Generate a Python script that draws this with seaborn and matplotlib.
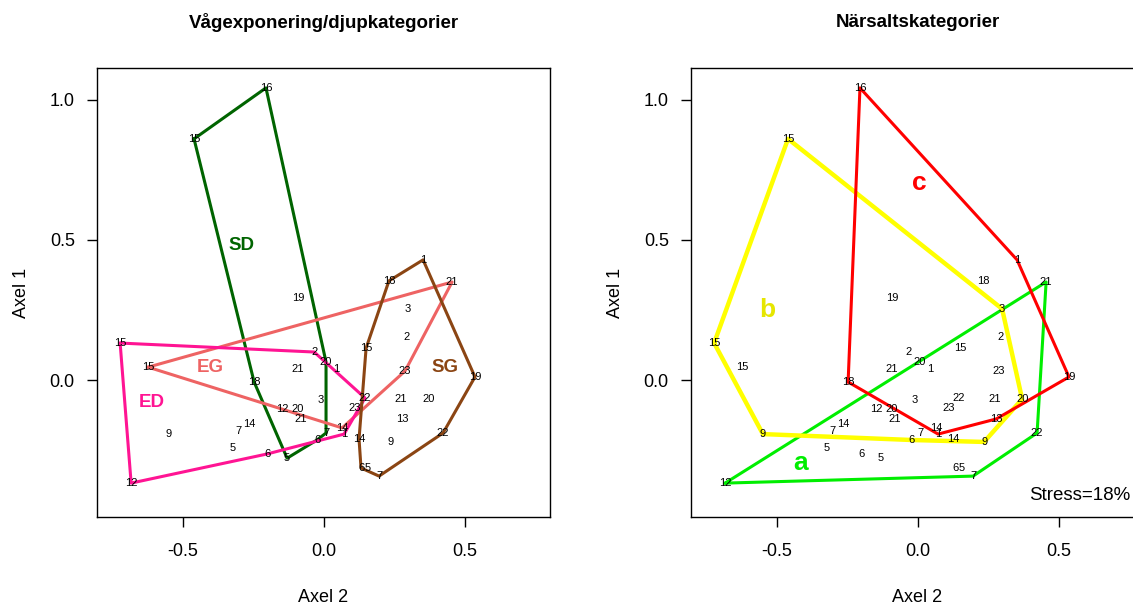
import numpy as np
import pandas as pd
import matplotlib
matplotlib.use("Agg")
import matplotlib.pyplot as plt
import seaborn as sns

# ----------------------------------------
# NMDS site scores (same ordination in both panels)
# ----------------------------------------
site = ["16", "15", "19", "18", "1", "21", "3", "2", "15", "23", "19",
        "21", "20", "13", "22", "9", "6", "5", "7", "14", "22", "23",
        "14", "1", "6", "7", "5", "6", "12", "20", "21", "3", "21",
        "2", "20", "1", "18", "15", "15", "9", "7", "14", "5", "12"]
axel2 = [-0.206, -0.461, -0.092, 0.230, 0.351, 0.454, 0.298, 0.294, 0.149, 0.287, 0.535,
         0.270, 0.369, 0.277, 0.422, 0.234, 0.131, 0.156, 0.195, 0.124, 0.145, 0.110,
         0.064, 0.071, -0.025, 0.007, -0.131, -0.202, -0.149, -0.092, -0.082, -0.011, -0.092,
         -0.035, 0.007, 0.043, -0.248, -0.624, -0.723, -0.550, -0.305, -0.266, -0.323, -0.684]
axel1 = [1.043, 0.861, 0.293, 0.354, 0.429, 0.350, 0.254, 0.154, 0.114, 0.032, 0.011,
         -0.068, -0.068, -0.139, -0.189, -0.221, -0.314, -0.314, -0.343, -0.211, -0.064, -0.100,
         -0.171, -0.193, -0.214, -0.189, -0.279, -0.264, -0.104, -0.104, -0.139, -0.071, 0.039,
         0.100, 0.064, 0.039, -0.007, 0.046, 0.132, -0.193, -0.182, -0.157, -0.243, -0.368]

# wave exposure / depth category of each sample
exposure = ["SD", "SD", "SD", "SG", "SG", "EG", "SG", "SG", "SG", "EG", "SG",
            "SG", "SG", "SG", "SG", "SG", "SG", "SG", "SG", "SG", "ED", "EG",
            "EG", "ED", "SD", "SD", "SD", "ED", "ED", "ED", "ED", "SD", "SD",
            "ED", "SD", "EG", "SD", "EG", "ED", "ED", "ED", "ED", "ED", "ED"]
# nutrient category of each sample
nutrient = ["c", "b", "c", "c", "c", "a", "b", "c", "c", "c", "c",
            "c", "b", "c", "a", "b", "a", "a", "a", "b", "c", "c",
            "c", "c", "b", "b", "a", "a", "a", "a", "a", "c", "c",
            "c", "c", "c", "c", "b", "b", "b", "b", "b", "a", "a"]

left_groups = ["SD", "EG", "ED", "SG"]
left_colors = {"SD": "#006400", "EG": "#EE6363", "ED": "#FF1493", "SG": "#8B4513"}
left_label_pos = {"SD": (-0.294, 0.482), "EG": (-0.404, 0.046),
                  "ED": (-0.610, -0.079), "SG": (0.429, 0.043)}

right_groups = ["a", "b", "c"]
right_colors = {"a": "#00EE00", "b": "#FFFF00", "c": "#FF0000"}
right_text_colors = {"a": "#00EE00", "b": "#E6E600", "c": "#FF0000"}
right_label_pos = {"a": (-0.418, -0.296), "b": (-0.535, 0.250), "c": (0.004, 0.704)}


def convex_hull(xs, ys):
    pts = sorted(set(zip(xs, ys)))

    def cross(o, a, b):
        return (a[0] - o[0]) * (b[1] - o[1]) - (a[1] - o[1]) * (b[0] - o[0])

    lower, upper = [], []
    for p in pts:
        while len(lower) >= 2 and cross(lower[-2], lower[-1], p) <= 0:
            lower.pop()
        lower.append(p)
    for p in reversed(pts):
        while len(upper) >= 2 and cross(upper[-2], upper[-1], p) <= 0:
            upper.pop()
        upper.append(p)
    hull = lower[:-1] + upper[:-1]
    hull.append(hull[0])
    hx, hy = zip(*hull)
    return np.array(hx), np.array(hy)


sns.set_style("ticks")
plt.rcParams['font.family'] = ['Liberation Sans', 'DejaVu Sans']
plt.rcParams['text.color'] = 'black'

fig = plt.figure(figsize=(11.33, 6.06), dpi=100)
ax1 = fig.add_axes([97 / 1133, 1 - 517 / 606, 453 / 1133, 449 / 606])
ax2 = fig.add_axes([691 / 1133, 1 - 517 / 606, 453 / 1133, 449 / 606])


def draw_panel(ax, groups, order, colors, text_colors, widths, label_pos, label_size, title):
    df = pd.DataFrame({"x": axel2, "y": axel1, "site": site, "grp": groups})
    for g in order:
        sub = df[df["grp"] == g]
        hx, hy = convex_hull(sub["x"].values, sub["y"].values)
        sns.lineplot(x=hx, y=hy, sort=False, estimator=None, color=colors[g],
                     lw=widths[g], ax=ax)
    for _, r in df.iterrows():
        ax.text(r["x"], r["y"], r["site"], fontsize=8, ha="center", va="center",
                color="black")
    for g in order:
        ax.text(label_pos[g][0], label_pos[g][1], g, color=text_colors[g],
                fontsize=label_size, fontweight="bold", ha="center", va="center")

    ax.set_xlim(-0.805, 0.801)
    ax.set_ylim(-0.489, 1.114)
    ax.set_xticks([-0.5, 0.0, 0.5])
    ax.set_xticklabels(["-0.5", "0.0", "0.5"])
    ax.set_yticks([0.0, 0.5, 1.0])
    ax.set_yticklabels(["0.0", "0.5", "1.0"])
    ax.tick_params(direction="out", length=7, width=1, labelsize=13, colors="black")
    ax.tick_params(axis="x", pad=12)
    ax.tick_params(axis="y", pad=9)
    for sp in ax.spines.values():
        sp.set_visible(True)
        sp.set_color("black")
        sp.set_linewidth(1)
    ax.set_xlabel("")
    ax.set_ylabel("")
    ax.text(0.5, 1.1024, title, transform=ax.transAxes, ha="center", va="center",
            fontsize=13.5, fontweight="bold", color="black")
    ax.text(0.5, -0.1804, "Axel 2", transform=ax.transAxes, ha="center", va="center",
            fontsize=13, color="black")
    ax.text(-0.1656, 0.5, "Axel 1", transform=ax.transAxes, ha="center", va="center",
            fontsize=13, rotation=90, color="black")


draw_panel(ax1, exposure, left_groups, left_colors, left_colors,
           {g: 2.2 for g in left_groups}, left_label_pos, 13.5,
           "Vågexponering/djupkategorier")
draw_panel(ax2, nutrient, right_groups, right_colors, right_text_colors,
           {"a": 2.2, "b": 3.2, "c": 2.2}, right_label_pos, 19,
           "Närsaltskategorier")
ax2.text(0.574, -0.414, "Stress=18%", fontsize=13.5, ha="center", va="center",
         color="black")

plt.savefig("out.png", dpi=100)
